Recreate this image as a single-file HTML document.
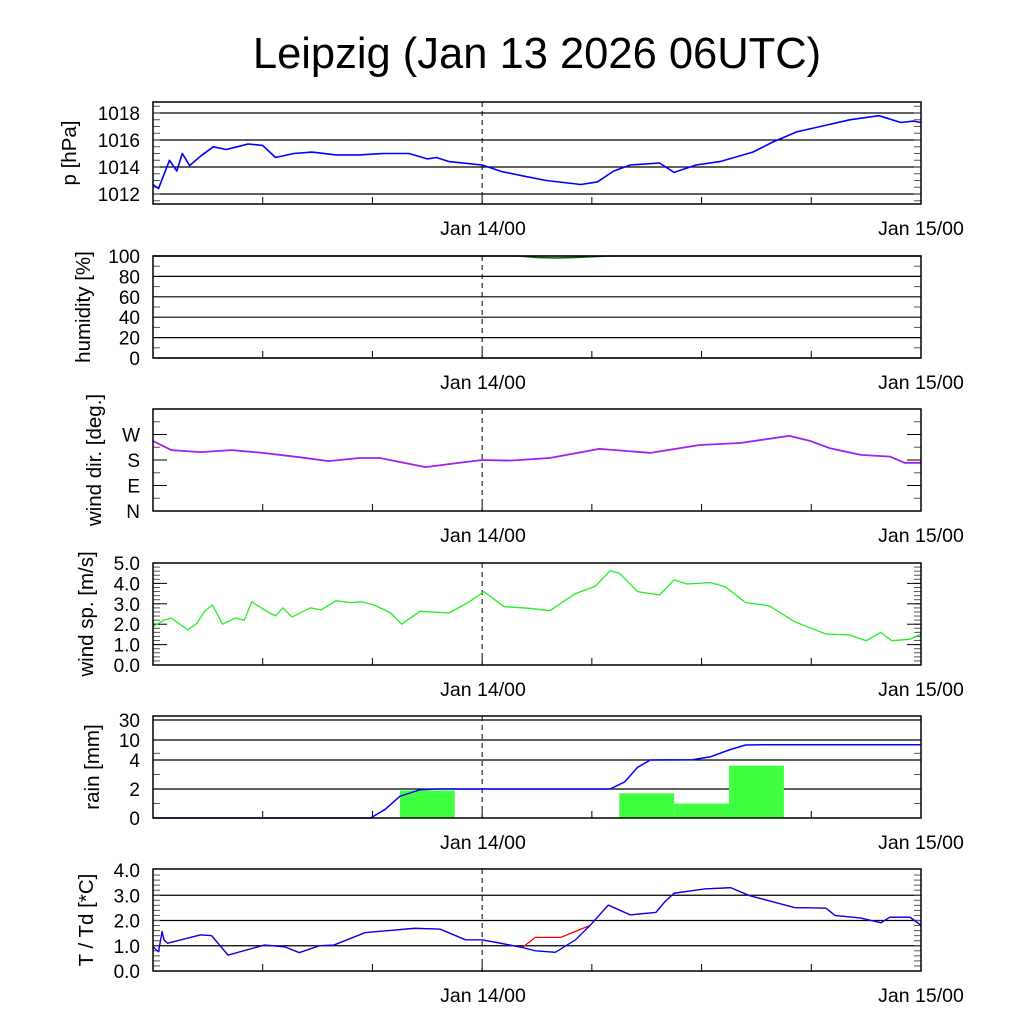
<!DOCTYPE html>
<html><head><meta charset="utf-8"><style>
html,body{margin:0;padding:0;background:#fff;}
svg{display:block;font-family:"Liberation Sans",sans-serif;}
</style></head><body>
<svg id="chart" width="1024" height="1024" viewBox="0 0 1024 1024" xmlns="http://www.w3.org/2000/svg">
<rect width="1024" height="1024" fill="#fff"/>
<text x="537" y="68" font-size="43.5" text-anchor="middle">Leipzig (Jan 13 2026 06UTC)</text>
</svg>
<script>
// hours since Jan 13 06UTC
const pressureHours=[0,0.3,0.9,1.3,1.6,2,2.6,3.3,4,4.6,5.2,6,6.7,7.7,8.7,10,11.3,12.6,14,15,15.5,16.2,18,19.1,20.2,21.5,23.4,24.3,25.2,26.1,27.7,28.5,29.7,31,32.8,33.9,35.2,36.5,38.1,39.7,40.9,41.6,42];
const pressureValues=[1012.7,1012.4,1014.5,1013.7,1015.0,1014.1,1014.8,1015.5,1015.3,1015.5,1015.7,1015.6,1014.7,1015.0,1015.1,1014.9,1014.9,1015.0,1015.0,1014.6,1014.7,1014.4,1014.15,1013.65,1013.35,1013.0,1012.7,1012.9,1013.7,1014.15,1014.3,1013.6,1014.15,1014.4,1015.1,1015.85,1016.6,1017.0,1017.5,1017.8,1017.3,1017.4,1017.3];
const humidityHours=[0,20,21,22,23,24,25,42];
const humidityValues=[100,100,98.5,98,98.5,99.3,100,100];
const windDirHours=[0,1,2.6,4.3,6,8,9.6,11.3,12.4,13.5,14.9,16.5,18,19.5,21.7,24.4,27.2,29.9,32.1,34.8,35.9,37,38.7,40.3,41.1,42];
const windDirValues=[247,215,208,215,205,190,176,187,187,173,155,168,180,178,187,219,205,233,240,265,248,222,198,192,170,170];
const windSpHours=[0,0.6,1,1.9,2.4,2.8,3.25,3.8,4.5,5,5.4,6.1,6.7,7.1,7.6,8.6,9.2,10,10.8,11.4,12.1,13,13.6,14.6,16.2,17.3,18.1,19.2,20.6,21.7,23.1,24.2,25,25.5,26.5,27.7,28.5,29.2,30.5,31.3,32.4,33.7,35.1,36.8,38.1,39,39.8,40.4,41.4,42];
const windSpValues=[1.88,2.2,2.3,1.72,2.04,2.61,2.94,2.0,2.3,2.2,3.1,2.7,2.4,2.8,2.35,2.8,2.7,3.15,3.06,3.1,2.94,2.55,2.0,2.63,2.55,3.1,3.6,2.86,2.78,2.66,3.5,3.87,4.62,4.5,3.6,3.43,4.17,3.97,4.04,3.84,3.06,2.9,2.12,1.52,1.47,1.19,1.6,1.19,1.26,1.52];
const rainBarStarts=[13.5,25.5,28.5,31.5,34.5];
const rainBarValues=[1.9,1.7,1.0,3.6,0.05];
const rainSumHours=[0,11.9,12.7,13.5,14.6,15.5,25,25.8,26.5,27.2,29.5,30.5,31.5,32.4,33.5,42];
const rainSumValues=[0,0,0.6,1.5,1.95,2,2,2.5,3.5,4,4.1,5,7,8.5,8.6,8.6];
const tempHours=[0,0.3,0.5,0.6,0.8,2.6,3.2,4.1,6.1,7.2,8,9.1,9.9,11.6,14.3,15.7,17.1,18,19,20.2,20.9,22.3,23.9,24.9,26.1,27.5,28.0,28.5,30.2,31.6,32.6,35.1,36.8,37.3,38.7,39.8,40.3,41.4,42];
const tempValues=[0.96,0.76,1.56,1.23,1.1,1.43,1.4,0.63,1.03,0.96,0.73,1.0,1.03,1.52,1.69,1.66,1.23,1.23,1.1,0.93,1.33,1.33,1.8,2.61,2.22,2.32,2.75,3.08,3.25,3.3,2.99,2.51,2.49,2.2,2.1,1.91,2.13,2.13,1.81];
const dewHours=[0,0.3,0.5,0.6,0.8,2.6,3.2,4.1,6.1,7.2,8,9.1,9.9,11.6,14.3,15.7,17.1,18,19,20.2,20.9,22,23.1,23.9,24.9,26.1,27.5,28.0,28.5,30.2,31.6,32.6,35.1,36.8,37.3,38.7,39.8,40.3,41.4,42];
const dewValues=[0.96,0.76,1.56,1.23,1.1,1.43,1.4,0.63,1.03,0.96,0.73,1.0,1.03,1.52,1.69,1.66,1.23,1.23,1.1,0.93,0.8,0.74,1.23,1.8,2.61,2.22,2.32,2.75,3.08,3.25,3.3,2.99,2.51,2.49,2.2,2.1,1.91,2.13,2.13,1.81];

const NS="http://www.w3.org/2000/svg";
const svg=document.getElementById('chart');
const X0=153,X1=921,H=42;
function xs(h){return X0+h*(X1-X0)/H;}
function mk(tag,attrs,parent){const e=document.createElementNS(NS,tag);for(const k in attrs)e.setAttribute(k,attrs[k]);(parent||svg).appendChild(e);return e;}

function panel(name,top,bot,yfun,grid,labels,minor,major,title,titleX){
  const g=mk('g',{});
  
  
  grid.forEach(v=>{const l=mk('line',{x1:X0,x2:X1,y1:yfun(v),y2:yfun(v),stroke:'#000','stroke-width':1.2},g);
    });
  minor.forEach(v=>{const y=yfun(v);mk('line',{x1:X0,x2:X0+7,y1:y,y2:y,stroke:'#555','stroke-width':1},g);mk('line',{x1:X1-7,x2:X1,y1:y,y2:y,stroke:'#555','stroke-width':1},g);});
  major.forEach(v=>{const y=yfun(v);mk('line',{x1:X0,x2:X0+14,y1:y,y2:y,stroke:'#000','stroke-width':1},g);mk('line',{x1:X1-14,x2:X1,y1:y,y2:y,stroke:'#000','stroke-width':1},g);});
  labels.forEach(([v,t])=>{const e=mk('text',{x:140,y:yfun(v)+7,'font-size':19,'text-anchor':'end'},g);e.textContent=t;
    });
  [6,12,18,24,30,36].forEach(h=>{const x=xs(h);mk('line',{x1:x,x2:x,y1:bot-7,y2:bot,stroke:'#000','stroke-width':1},g);});
  const d=mk('line',{x1:xs(18),x2:xs(18),y1:top,y2:bot,stroke:'#000','stroke-width':1,'stroke-dasharray':'5,4'},g);
  
  const tl=mk('text',{x:titleX,y:(top+bot)/2,'font-size':20.5,'text-anchor':'middle',transform:`rotate(-90 ${titleX} ${(top+bot)/2})`},g);
  tl.textContent=title;
  [['Jan 14/00',483],['Jan 15/00',921]].forEach(([t,x])=>{const e=mk('text',{x:x,y:bot+31,'font-size':19.5,'text-anchor':'middle'},g);e.textContent=t;
    });
  return g;
}
function frame(g,name,top,bot){const r=mk('rect',{x:X0,y:top,width:X1-X0,height:bot-top,fill:'none',stroke:'#000','stroke-width':1.5},g);
  }
function line(g,name,hs,vs,yfun,color,w){const p=hs.map((h,i)=>(i?'L':'M')+xs(h).toFixed(1)+','+yfun(vs[i]).toFixed(1)).join('');
  const e=mk('path',{d:p,fill:'none',stroke:color,'stroke-width':w||1.5,'stroke-linejoin':'round'},g);
  return e;}
function rng(a,b,s){const r=[];for(let v=a;v<=b+1e-9;v+=s)r.push(+v.toFixed(3));return r;}

let yP=v=>113+(1018-v)*13.5;
let g=panel('pressure',102,204,yP,[1012,1014,1016,1018],[[1012,'1012'],[1014,'1014'],[1016,'1016'],[1018,'1018']],rng(1011.5,1018.5,0.5),[],'p [hPa]',76);
line(g,'pressure-line',pressureHours,pressureValues,yP,'#0000ff',1.6);frame(g,'pressure',102,204);
let yH=v=>358-v*1.02;
g=panel('humidity',256,358,yH,[0,20,40,60,80,100],[0,20,40,60,80,100].map(v=>[v,String(v)]),rng(10,90,20),[],'humidity [%]',90);
line(g,'humidity-line',humidityHours,humidityValues,yH,'#006400',1.6);frame(g,'humidity',256,358);
let yD=v=>511-v*102/360;
g=panel('winddir',409,511,yD,[],[[0,'N'],[90,'E'],[180,'S'],[270,'W']],[45,135,225,315],[90,180,270],'wind dir. [deg.]',101);
line(g,'wind-direction-line',windDirHours,windDirValues,yD,'#a020f0',1.8);frame(g,'winddir',409,511);
let yS=v=>665-v*20.4;
g=panel('windspeed',563,665,yS,[],[0,1,2,3,4,5].map(v=>[v,v.toFixed(1)]),rng(0.2,4.8,0.2),[1,2,3,4],'wind sp. [m/s]',93);
line(g,'wind-speed-line',windSpHours,windSpValues,yS,'#22ee22',1.3);frame(g,'windspeed',563,665);
const rK=[0,2,4,10,30],rY=[818,789,760,740,720];
let yR=v=>{for(let i=1;i<rK.length;i++){if(v<=rK[i])return rY[i-1]+(v-rK[i-1])/(rK[i]-rK[i-1])*(rY[i]-rY[i-1]);}return 716;};
g=panel('rain',716,818,yR,[2,4,10,30],[[0,'0'],[2,'2'],[4,'4'],[10,'10'],[30,'30']],[1,3,6],[],'rain [mm]',99);
rainBarStarts.forEach((h,i)=>{const y=yR(rainBarValues[i]);const b=mk('rect',{x:xs(h),y:y,width:xs(h+3)-xs(h),height:818-y,fill:'#40ff40'},g);
  });
line(g,'rain-cumulative-line',rainSumHours,rainSumValues,yR,'#0000ff',1.5);frame(g,'rain',716,818);
let yT=v=>971-v*25.25;
g=panel('temp',869,971,yT,[1,2,3],[0,1,2,3,4].map(v=>[v,v.toFixed(1)]),rng(0.2,3.8,0.2),[],'T / Td [*C]',93);
line(g,'temperature-line',tempHours,tempValues,yT,'#ff0000',1.3);
line(g,'dewpoint-line',dewHours,dewValues,yT,'#0000ff',1.3);frame(g,'temp',869,971);
</script>
</body></html>
